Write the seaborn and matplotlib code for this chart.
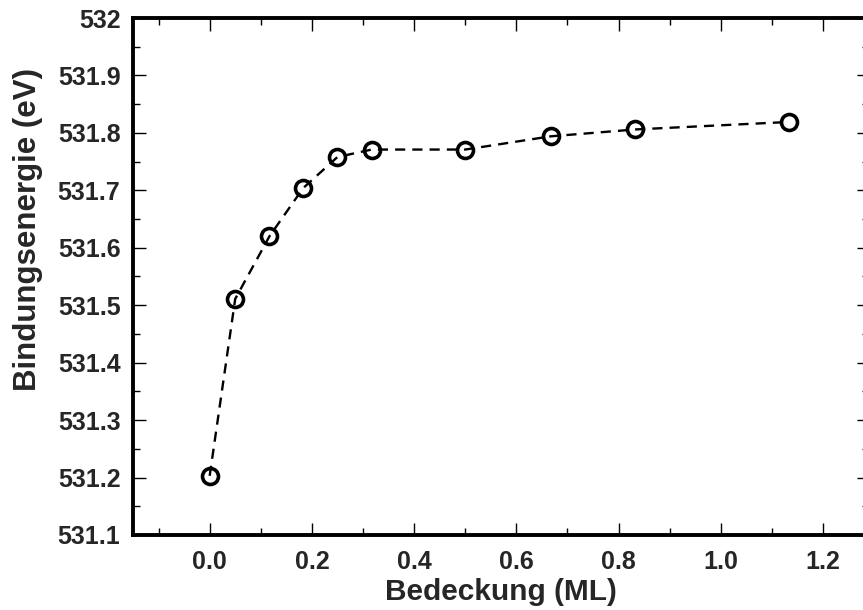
import matplotlib
matplotlib.use("Agg")
import matplotlib.pyplot as plt
import seaborn as sns
import pandas as pd
from matplotlib.ticker import MultipleLocator, FixedLocator, FixedFormatter

# Data
bedeckung = [0.0, 0.05, 0.117, 0.183, 0.25, 0.317, 0.5, 0.667, 0.833, 1.133]
energie = [531.203, 531.511, 531.620, 531.704, 531.758, 531.771, 531.771, 531.794, 531.806, 531.819]
x_ticks = [0.0, 0.2, 0.4, 0.6, 0.8, 1.0, 1.2]
x_tick_labels = ["0.0", "0.2", "0.4", "0.6", "0.8", "1.0", "1.2"]
y_ticks = [531.1, 531.2, 531.3, 531.4, 531.5, 531.6, 531.7, 531.8, 531.9, 532.0]
y_tick_labels = ["531.1", "531.2", "531.3", "531.4", "531.5", "531.6", "531.7", "531.8", "531.9", "532"]
x_label = "Bedeckung (ML)"
y_label = "Bindungsenergie (eV)"

sns.set_theme(style="ticks")
plt.rcParams["font.family"] = ["Liberation Sans", "DejaVu Sans"]
plt.rcParams["font.weight"] = "bold"

fig = plt.figure(figsize=(8.63, 6.10), dpi=100)
ax = fig.add_axes([133 / 863, 1 - 535 / 610, (869 - 133) / 863, (535 - 18) / 610])

df = pd.DataFrame({"x": bedeckung, "y": energie})
sns.lineplot(data=df, x="x", y="y", ax=ax, color="black", linestyle="--",
             linewidth=1.7, dashes=False, marker="o", markersize=11.5,
             markerfacecolor="none", markeredgecolor="black", markeredgewidth=2.6)
for l in ax.lines:
    l.set_dashes((4.3, 3.0))

ax.set_xlim(-0.15, 1.29)
ax.set_ylim(531.1, 532.0)

ax.xaxis.set_major_locator(FixedLocator(x_ticks))
ax.xaxis.set_major_formatter(FixedFormatter(x_tick_labels))
ax.xaxis.set_minor_locator(MultipleLocator(0.1))
ax.yaxis.set_major_locator(FixedLocator(y_ticks))
ax.yaxis.set_major_formatter(FixedFormatter(y_tick_labels))
ax.yaxis.set_minor_locator(MultipleLocator(0.05))

ax.tick_params(axis="both", which="both", direction="in", top=True, right=True,
               color="black", width=1.0)
ax.tick_params(axis="both", which="major", length=9, labelsize=18)
ax.tick_params(axis="y", which="major", pad=9)
ax.tick_params(axis="x", which="major", pad=11)
ax.tick_params(axis="both", which="minor", length=5)
for lab in ax.get_xticklabels() + ax.get_yticklabels():
    lab.set_fontweight("bold")

for s in ax.spines.values():
    s.set_linewidth(2.8)
    s.set_color("black")

ax.set_xlabel(x_label, fontsize=21.5, fontweight="bold", labelpad=3)
ax.set_ylabel(y_label, fontsize=22.5, fontweight="bold")
ax.yaxis.set_label_coords(-0.122, 0.59)

fig.savefig("out.png", dpi=100)
